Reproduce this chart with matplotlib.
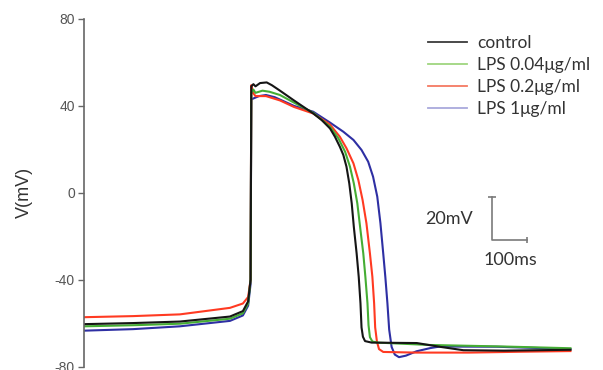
import matplotlib.pyplot as plt
from matplotlib.lines import Line2D

plt.rcParams['axes.unicode_minus'] = False

### data (time in ms, voltage in mV) ################################################

t_control = [0, 140, 274, 417, 454, 469, 476, 478, 484, 490, 503, 522, 537, 560, 600, 655,
             679, 703, 717, 731, 741, 750, 758, 765, 771, 779, 785, 790, 793, 797, 803, 822,
             951, 1020, 1084, 1200, 1390]
v_control = [-60.5, -60, -59.3, -57, -54.5, -50, -40, 49, 50, 49, 50.5, 50.8, 49.5, 47, 42.5, 36.5,
             33.5, 29.6, 25.8, 21.2, 17.4, 12, 4.3, -4.9, -15.7, -27.9, -38.7, -50.9, -62, -66.3, -68.3, -69,
             -69.2, -71, -72.5, -72.7, -72.3]

t_lps004 = [0, 140, 274, 417, 454, 469, 476, 478, 484, 490, 510, 530, 560, 600, 655,
            703, 727, 746, 760, 771, 781, 790, 798, 804, 810, 813, 817, 824, 840, 989, 1200, 1390]
v_lps004 = [-61.5, -61, -60.3, -58, -55.5, -51, -40, 46, 47.5, 46, 47, 46.5, 45, 41.5, 36.8,
            30.4, 25, 18.9, 12, 4.3, -4.9, -17.2, -27.9, -38.7, -50.9, -61, -66.5, -68.5, -69, -70.1, -70.8, -71.6]

t_lps02 = [0, 140, 274, 417, 454, 469, 476, 478, 483, 490, 520, 560, 600, 655, 703, 731, 750,
           770, 784, 796, 807, 817, 824, 829, 832, 837, 843, 855, 950, 1100, 1250, 1390]
v_lps02 = [-57.3, -56.8, -56, -53, -51, -48, -40, 49.5, 46, 44.5, 44.5, 42.5, 39.5, 36.5, 31.4, 25.8, 20.5,
           13.5, 5.8, -3.3, -14, -27.9, -38.7, -50.9, -62, -68.5, -72, -73.3, -73.6, -73.6, -73.2, -72.9]

t_lps1 = [0, 140, 274, 417, 454, 469, 476, 478, 500, 520, 545, 600, 655, 703, 741, 770, 793,
          812, 826, 838, 847, 855, 861, 867, 872, 879, 888, 900, 920, 950, 990, 1017, 1179, 1300, 1390]
v_lps1 = [-63.5, -62.8, -61.5, -59, -56.5, -52, -42, 43, 44.5, 45, 44, 40, 37.3, 32.3, 28.1, 24.3, 19.7,
          14.3, 7.4, -1.8, -14, -27.9, -38.7, -50.9, -63, -71, -74.5, -75.7, -75, -73, -71.5, -70.8, -70.9, -71.5, -72]

labels = ['control', 'LPS 0.04μg/ml', 'LPS 0.2μg/ml', 'LPS 1μg/ml']
yticks = [-80, -40, 0, 40, 80]

trace_colors = ['#151515', '#45ad34', '#ff3a22', '#2e2fa3']
legend_colors = ['#3a3a3a', '#9fd67f', '#f47a62', '#a9a9dc']

### figure ###########################################################################

fig = plt.figure(figsize=(6.03, 3.70), dpi=100)
ax = fig.add_axes([84 / 603, 3.5 / 370, 519 / 603, 347.5 / 370])

series = [(t_control, v_control), (t_lps004, v_lps004), (t_lps02, v_lps02), (t_lps1, v_lps1)]
# blue first so black ends up on top, like in the original
for i in [3, 2, 1, 0]:
    t, v = series[i]
    ax.plot(t, v, color=trace_colors[i], lw=1.5, solid_joinstyle='round')

ax.set_xlim(0, 1483)
ax.set_ylim(-80, 80)
ax.set_yticks(yticks)
ax.tick_params(axis='y', direction='out', length=4.5, width=1, pad=2, colors='#666666',
               labelsize=10, labelcolor='#555555')
ax.set_xticks([])
for s in ['top', 'right', 'bottom']:
    ax.spines[s].set_visible(False)
ax.spines['left'].set_color('#666666')
ax.spines['left'].set_linewidth(1.2)

ax.set_ylabel('V(mV)', fontsize=13, color='#333333', family='Liberation Sans')
ax.yaxis.set_label_coords(-0.098, 0.5)
for lab in ax.get_yticklabels():
    lab.set_family('Liberation Sans')

# scale bar
bar_t = 1165
bar_v = -21.8
ax.plot([bar_t, bar_t, bar_t + 100], [bar_v + 20, bar_v, bar_v], color='#7a7a7a', lw=1.2)
ax.plot([bar_t], [bar_v + 20], marker='_', ms=6, color='#7a7a7a', mew=1.2)
ax.plot([bar_t + 100], [bar_v], marker='|', ms=5, color='#7a7a7a', mew=1.2)
ax.text(1111, -12.1, '20mV', ha='right', va='center', fontsize=13,
        family='Lato', color='#333333')
ax.text(1217, -31, '100ms', ha='center', va='center', fontsize=13,
        family='Lato', color='#333333')

# legend
handles = [Line2D([], [], color=c, lw=1.3) for c in legend_colors]
leg = ax.legend(handles, labels, loc='upper left', bbox_to_anchor=(428 / 603, 1 - 35.5 / 370),
                bbox_transform=fig.transFigure, frameon=False,
                handlelength=2.25, handletextpad=0.6, labelspacing=0.33, borderpad=0,
                borderaxespad=0, prop={'family': 'Lato', 'size': 12.5})
for txt in leg.get_texts():
    txt.set_color('#333333')

fig.savefig('out.png', dpi=100)
